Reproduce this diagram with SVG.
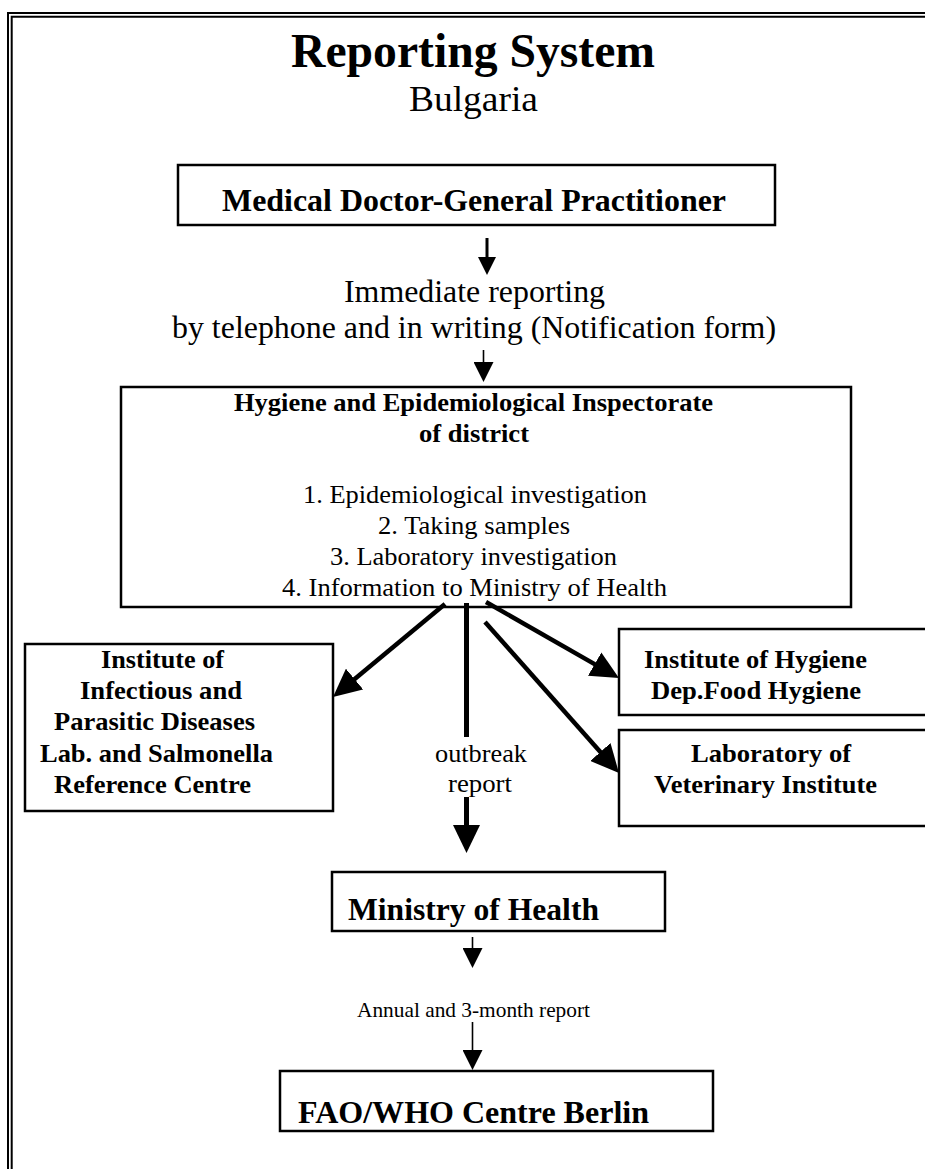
<svg xmlns="http://www.w3.org/2000/svg" width="925" height="1169" viewBox="0 0 925 1169">
<style>
.bg{fill:#fff}
.frame{fill:none;stroke:#000;stroke-width:2}
.box{fill:#fff;stroke:#000;stroke-width:2.5}
text{font-family:"Liberation Serif","Times New Roman",serif;fill:#000}
.b{font-weight:bold}
.t48{font-size:48px}
.t35{font-size:35px}
.t32{font-size:31.5px}
.t31{font-size:31px}
.t26{font-size:26px}
.t21{font-size:21px}
.big{stroke:#000;stroke-width:4.5;fill:none}
.xl{stroke:#000;stroke-width:5;fill:none}
.mid{stroke:#000;stroke-width:3;fill:none}
.thin{stroke:#000;stroke-width:1.6;fill:none}
</style>
<defs>
<marker id="headBig" markerUnits="userSpaceOnUse" viewBox="0 0 28 27" refX="8" refY="13.5" markerWidth="28" markerHeight="27" orient="auto"><path d="M0,0 L28,13.5 L0,27 Z" fill="#000"/></marker>
<marker id="headMid" markerUnits="userSpaceOnUse" viewBox="0 0 18 18" refX="6" refY="9" markerWidth="18" markerHeight="18" orient="auto"><path d="M0,0 L18,9 L0,18 Z" fill="#000"/></marker>
<marker id="headSmall" markerUnits="userSpaceOnUse" viewBox="0 0 20 20" refX="6" refY="10" markerWidth="20" markerHeight="20" orient="auto"><path d="M0,0 L20,10 L0,20 Z" fill="#000"/></marker>
</defs>
<rect class="bg" x="0" y="0" width="925" height="1169"/>
<g id="frame">
<path class="frame" d="M8,1169 V13 H925"/>
<path class="frame" d="M11.7,1169 V16.7 H925"/>
</g>
<g id="title">
<text class="b t48" x="291" y="67" textLength="364" lengthAdjust="spacingAndGlyphs">Reporting System</text>
<text class="t35" x="409" y="111" textLength="129" lengthAdjust="spacingAndGlyphs">Bulgaria</text>
</g>
<g id="node-doctor">
<rect class="box" x="178" y="165" width="597" height="60"/>
<text class="b t32" x="222" y="211" textLength="504" lengthAdjust="spacingAndGlyphs">Medical Doctor-General Practitioner</text>
</g>
<g id="label-immediate">
<text class="t32" x="344" y="302" textLength="261" lengthAdjust="spacingAndGlyphs">Immediate reporting</text>
<text class="t32" x="172" y="338" textLength="604" lengthAdjust="spacingAndGlyphs">by telephone and in writing (Notification form)</text>
</g>
<g id="node-hygiene">
<rect class="box" x="121" y="387" width="730" height="220"/>
<text class="b t26" x="234" y="411" textLength="479" lengthAdjust="spacingAndGlyphs">Hygiene and Epidemiological Inspectorate</text>
<text class="b t26" x="419" y="442" textLength="110" lengthAdjust="spacingAndGlyphs">of district</text>
<text class="t26" x="303" y="503" textLength="344" lengthAdjust="spacingAndGlyphs">1. Epidemiological investigation</text>
<text class="t26" x="378" y="534" textLength="192" lengthAdjust="spacingAndGlyphs">2. Taking samples</text>
<text class="t26" x="330" y="565" textLength="287" lengthAdjust="spacingAndGlyphs">3. Laboratory investigation</text>
<text class="t26" x="282" y="596" textLength="385" lengthAdjust="spacingAndGlyphs">4. Information to Ministry of Health</text>
</g>
<g id="node-infectious">
<rect class="box" x="25" y="644" width="308" height="167"/>
<text class="b t26" x="101" y="668" textLength="123" lengthAdjust="spacingAndGlyphs">Institute of</text>
<text class="b t26" x="80" y="699" textLength="162" lengthAdjust="spacingAndGlyphs">Infectious and</text>
<text class="b t26" x="54" y="730" textLength="201" lengthAdjust="spacingAndGlyphs">Parasitic Diseases</text>
<text class="b t26" x="40" y="762" textLength="233" lengthAdjust="spacingAndGlyphs">Lab. and Salmonella</text>
<text class="b t26" x="54" y="793" textLength="197" lengthAdjust="spacingAndGlyphs">Reference Centre</text>
</g>
<g id="node-food-hygiene">
<rect class="box" x="619" y="629" width="330" height="86"/>
<text class="b t26" x="644" y="668" textLength="223" lengthAdjust="spacingAndGlyphs">Institute of Hygiene</text>
<text class="b t26" x="651" y="699" textLength="210" lengthAdjust="spacingAndGlyphs">Dep.Food Hygiene</text>
</g>
<g id="node-veterinary">
<rect class="box" x="619" y="730" width="330" height="96"/>
<text class="b t26" x="691" y="762" textLength="160" lengthAdjust="spacingAndGlyphs">Laboratory of</text>
<text class="b t26" x="654" y="793" textLength="223" lengthAdjust="spacingAndGlyphs">Veterinary Institute</text>
</g>
<g id="node-ministry">
<rect class="box" x="332" y="872" width="333" height="59"/>
<text class="b t31" x="348" y="920" textLength="251" lengthAdjust="spacingAndGlyphs">Ministry of Health</text>
</g>
<g id="node-fao">
<rect class="box" x="280" y="1071" width="433" height="60"/>
<text class="b t31" x="298" y="1123" textLength="351" lengthAdjust="spacingAndGlyphs">FAO/WHO Centre Berlin</text>
</g>
<g id="connectors">
<line class="mid" x1="487" y1="238" x2="487" y2="263" marker-end="url(#headMid)"/>
<line class="thin" x1="483.5" y1="350" x2="483.5" y2="368" marker-end="url(#headSmall)"/>
<line class="big" x1="445" y1="604" x2="348.4" y2="684.2" marker-end="url(#headBig)"/>
<line class="big" x1="486" y1="602" x2="601.6" y2="668.1" marker-end="url(#headBig)"/>
<line class="big" x1="485" y1="622" x2="605.7" y2="758" marker-end="url(#headBig)"/>
<line class="xl" x1="466.5" y1="603" x2="466.5" y2="737"/>
<line class="xl" x1="466.5" y1="797" x2="466.5" y2="833" marker-end="url(#headBig)"/>
<text class="t26" x="435" y="762" textLength="92" lengthAdjust="spacingAndGlyphs">outbreak</text>
<text class="t26" x="448" y="792" textLength="64" lengthAdjust="spacingAndGlyphs">report</text>
<line class="thin" x1="472.5" y1="937" x2="472.5" y2="954" marker-end="url(#headSmall)"/>
<text class="t21" x="357" y="1017" textLength="233" lengthAdjust="spacingAndGlyphs">Annual and 3-month report</text>
<line class="thin" x1="472.5" y1="1022" x2="472.5" y2="1056" marker-end="url(#headSmall)"/>
</g>
</svg>
